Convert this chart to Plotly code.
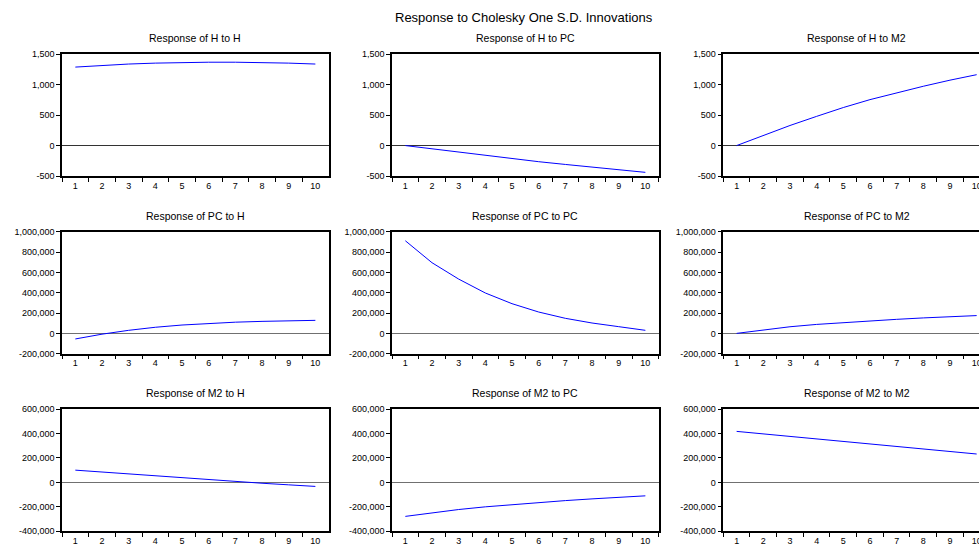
import plotly.graph_objects as go

periods = ["1", "2", "3", "4", "5", "6", "7", "8", "9", "10"]

h_to_h = [1290, 1320, 1340, 1355, 1365, 1370, 1370, 1365, 1355, 1340]
h_to_pc = [0, -55, -108, -162, -215, -265, -310, -355, -400, -440]
h_to_m2 = [0, 170, 330, 480, 625, 755, 870, 975, 1075, 1165]

pc_to_h = [-55000, -8000, 30000, 60000, 82000, 98000, 110000, 118000, 124000, 128000]
pc_to_pc = [911000, 695000, 534000, 397000, 292000, 210000, 148000, 102000, 66000, 30000]
pc_to_m2 = [0, 35000, 65000, 88000, 107000, 123000, 138000, 152000, 164000, 175000]

m2_to_h = [100000, 84000, 68000, 53000, 37000, 22000, 8000, -7000, -20000, -33000]
m2_to_pc = [-278000, -248000, -222000, -200000, -181000, -164000, -149000, -135000, -122000, -110000]
m2_to_m2 = [417000, 397000, 377000, 357000, 336000, 315000, 295000, 274000, 253000, 232000]

series = [
    [h_to_h, h_to_pc, h_to_m2],
    [pc_to_h, pc_to_pc, pc_to_m2],
    [m2_to_h, m2_to_pc, m2_to_m2],
]
titles = [
    ["Response of H to H", "Response of H to PC", "Response of H to M2"],
    ["Response of PC to H", "Response of PC to PC", "Response of PC to M2"],
    ["Response of M2 to H", "Response of M2 to PC", "Response of M2 to M2"],
]
main_title = "Response to Cholesky One S.D. Innovations"

row1_ticks = [-500, 0, 500, 1000, 1500]
row1_labels = ["-500", "0", "500", "1,000", "1,500"]
row2_ticks = [-200000, 0, 200000, 400000, 600000, 800000, 1000000]
row2_labels = ["-200,000", "0", "200,000", "400,000", "600,000", "800,000", "1,000,000"]
row3_ticks = [-400000, -200000, 0, 200000, 400000, 600000]
row3_labels = ["-400,000", "-200,000", "0", "200,000", "400,000", "600,000"]
y_ticks = [row1_ticks, row2_ticks, row3_ticks]
y_labels = [row1_labels, row2_labels, row3_labels]

W, H = 979, 544
col_px = [(62, 328.7), (392, 659), (723.3, 979)]
row_px = [(54.3, 176), (231.7, 353.7), (409, 531.3)]
title_y_px = [37.7, 215.7, 393.3]
cat_w = (328.7 - 62) / 10.0
zero_colors = ["#333333", "#707070", "#707070"]

FONT = "Liberation Sans, Arial, sans-serif"

fig = go.Figure()
annotations = []
for r in range(3):
    for c in range(3):
        idx = r * 3 + c + 1
        xa = "x" if idx == 1 else f"x{idx}"
        ya = "y" if idx == 1 else f"y{idx}"
        fig.add_trace(go.Scatter(
            x=periods, y=series[r][c], mode="lines",
            line=dict(color="#0000ff", width=1),
            xaxis=xa, yaxis=ya, showlegend=False, hoverinfo="x+y"))
        x0, x1 = col_px[c]
        y0, y1 = row_px[r]
        xr_end = -0.5 + (x1 - x0) / cat_w
        xkey = "xaxis" if idx == 1 else f"xaxis{idx}"
        ykey = "yaxis" if idx == 1 else f"yaxis{idx}"
        fig.layout[xkey] = dict(
            domain=[x0 / W, min(x1 / W, 1.0)],
            anchor=ya, type="category", automargin=False,
            range=[-0.5, xr_end],
            showline=True, linecolor="black", linewidth=1.5, mirror=True,
            ticks="outside", tickson="boundaries", ticklen=4, tickwidth=1,
            tickcolor="black", showgrid=False, zeroline=False,
            tickfont=dict(family=FONT, size=9, color="black"),
            fixedrange=True,
        )
        yt = y_ticks[r]
        fig.layout[ykey] = dict(
            domain=[1 - y1 / H, 1 - y0 / H],
            anchor=xa, automargin=False,
            range=[yt[0], yt[-1]],
            tickvals=yt, ticktext=y_labels[r],
            showline=True, linecolor="black", linewidth=1.5,
            mirror=(c < 2),
            ticks="outside", ticklen=4, tickwidth=1, tickcolor="black",
            showgrid=False,
            zeroline=True, zerolinecolor=zero_colors[r], zerolinewidth=1.3,
            tickfont=dict(family=FONT, size=9, color="black"),
            fixedrange=True,
        )
        annotations.append(dict(
            text=titles[r][c], xref="paper", yref="paper",
            x=((x0 + x0 + 266.7) / 2) / W, y=1 - title_y_px[r] / H,
            xanchor="center", yanchor="middle", showarrow=False,
            font=dict(family=FONT, size=10.5, color="black")))

annotations.append(dict(
    text=main_title, xref="paper", yref="paper",
    x=524 / W, y=1 - 17 / H, xanchor="center", yanchor="middle",
    showarrow=False, font=dict(family=FONT, size=13, color="black")))

fig.update_layout(
    template="none",
    width=W, height=H,
    margin=dict(l=0, r=0, t=0, b=0, autoexpand=False),
    paper_bgcolor="white", plot_bgcolor="white",
    annotations=annotations,
    showlegend=False,
)

fig.write_html(
    "out.html",
    config={"displayModeBar": False},
    post_script="document.body.style.margin='0';document.body.style.overflow='hidden';",
)
